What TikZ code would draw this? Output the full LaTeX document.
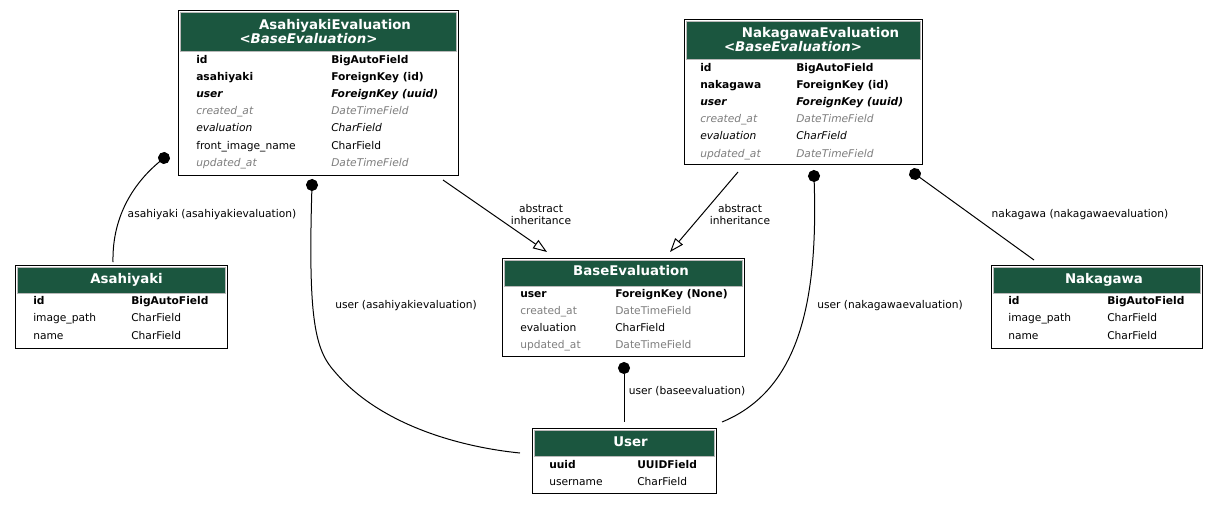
\documentclass[tikz,border=0pt]{standalone}
\usepackage{fontspec}
\setmainfont{DejaVu Sans}[BoldFont={DejaVu Sans Bold}, ItalicFont={DejaVu Sans Oblique}, BoldItalicFont={DejaVu Sans Bold Oblique}]
\usetikzlibrary{arrows.meta}

\definecolor{hdrgreen}{RGB}{27,86,63}
\definecolor{inhgray}{RGB}{125,125,125}

\tikzset{
	tablebox/.style={draw=black, line width=0.75pt},
	hdrcell/.style={fill=hdrgreen, draw=gray!55, line width=0.75pt},
	title/.style={text=white, inner sep=0pt, anchor=base, font=\fontsize{10}{12}\selectfont\bfseries},
	titleit/.style={title, font=\fontsize{10}{12}\selectfont\bfseries\itshape},
	fld/.style={inner sep=0pt, anchor=base west, font=\fontsize{8}{9.6}\selectfont},
	fldkey/.style={fld, font=\fontsize{8}{9.6}\selectfont\bfseries},
	fldfk/.style={fld, font=\fontsize{8}{9.6}\selectfont\bfseries\itshape},
	fldit/.style={fld, font=\fontsize{8}{9.6}\selectfont\itshape},
	fldinh/.style={fld, font=\fontsize{8}{9.6}\selectfont\itshape, text=inhgray},
	fldgray/.style={fld, text=inhgray},
	fldplain/.style={fld},
	elabel/.style={inner sep=0pt, align=center, font=\fontsize{8}{9}\selectfont},
	fkedge/.style={{Circle[length=9pt]}-, shorten <=-4.5pt, line width=0.75pt},
	inherit/.style={-{Triangle[open, length=10.5pt, width=7.5pt]}, line width=0.75pt},
}

\begin{document}
\begin{tikzpicture}[x=0.75pt, y=-0.75pt]
	\useasboundingbox (0,0) rectangle (1219,504);

	% AsahiyakiEvaluation
	\draw[tablebox] (178.5,10.5) rectangle (458.5,175);
	\draw[hdrcell] (180.5,12.5) rectangle (456.5,51.5);
	\node[title] (ae-title) at (335,29) {AsahiyakiEvaluation};
	\node[titleit] (ae-base) at (308.5,43) {<BaseEvaluation>};
	\foreach \st/\fn/\ft [count=\i] in {fldkey/id/BigAutoField, fldkey/asahiyaki/ForeignKey (id), fldfk/user/ForeignKey (uuid), fldinh/created\_at/DateTimeField, fldit/evaluation/CharField, fldplain/front\_image\_name/CharField, fldinh/updated\_at/DateTimeField}
	{
		\node[\st] (ae-n\i) at (196,{63+17.2*(\i-1)}) {\fn};
		\node[\st] (ae-t\i) at (331,{63+17.2*(\i-1)}) {\ft};
	}

	% NakagawaEvaluation
	\draw[tablebox] (684,19) rectangle (922,164.5);
	\draw[hdrcell] (686,21) rectangle (920,59.5);
	\node[title] (ne-title) at (820.5,37) {NakagawaEvaluation};
	\node[titleit] (ne-base) at (793,51) {<BaseEvaluation>};
	\foreach \st/\fn/\ft [count=\i] in {fldkey/id/BigAutoField, fldkey/nakagawa/ForeignKey (id), fldfk/user/ForeignKey (uuid), fldinh/created\_at/DateTimeField, fldit/evaluation/CharField, fldinh/updated\_at/DateTimeField}
	{
		\node[\st] (ne-n\i) at (700,{71+17.2*(\i-1)}) {\fn};
		\node[\st] (ne-t\i) at (796,{71+17.2*(\i-1)}) {\ft};
	}

	% BaseEvaluation
	\draw[tablebox] (502,258) rectangle (744.5,356);
	\draw[hdrcell] (504,260) rectangle (742.5,286.5);
	\node[title] (be-title) at (631,275) {BaseEvaluation};
	\foreach \st/\fn/\ft [count=\i] in {fldkey/user/ForeignKey (None), fldgray/created\_at/DateTimeField, fldplain/evaluation/CharField, fldgray/updated\_at/DateTimeField}
	{
		\node[\st] (be-n\i) at (520,{297+17.3*(\i-1)}) {\fn};
		\node[\st] (be-t\i) at (615,{297+17.3*(\i-1)}) {\ft};
	}

	% Asahiyaki
	\draw[tablebox] (15.5,265.5) rectangle (227.5,348);
	\draw[hdrcell] (17.5,267.5) rectangle (225.5,293.5);
	\node[title] (as-title) at (126.5,283) {Asahiyaki};
	\foreach \st/\fn/\ft [count=\i] in {fldkey/id/BigAutoField, fldplain/image\_path/CharField, fldplain/name/CharField}
	{
		\node[\st] (as-n\i) at (33,{304+17.8*(\i-1)}) {\fn};
		\node[\st] (as-t\i) at (131,{304+17.8*(\i-1)}) {\ft};
	}

	% Nakagawa
	\draw[tablebox] (991.5,265.5) rectangle (1202.5,348);
	\draw[hdrcell] (993.5,267.5) rectangle (1200.5,293.5);
	\node[title] (nk-title) at (1104,283) {Nakagawa};
	\foreach \st/\fn/\ft [count=\i] in {fldkey/id/BigAutoField, fldplain/image\_path/CharField, fldplain/name/CharField}
	{
		\node[\st] (nk-n\i) at (1008,{304+17.8*(\i-1)}) {\fn};
		\node[\st] (nk-t\i) at (1107,{304+17.8*(\i-1)}) {\ft};
	}

	% User
	\draw[tablebox] (532,428.5) rectangle (716,493);
	\draw[hdrcell] (534,430.5) rectangle (714,456.5);
	\node[title] (us-title) at (630.5,446) {User};
	\foreach \st/\fn/\ft [count=\i] in {fldkey/uuid/UUIDField, fldplain/username/CharField}
	{
		\node[\st] (us-n\i) at (549,{468+17.3*(\i-1)}) {\fn};
		\node[\st] (us-t\i) at (637,{468+17.3*(\i-1)}) {\ft};
	}

	% edge ends
	\coordinate (ae-asahiyaki) at (164,158);
	\coordinate (as-top) at (113,262);
	\coordinate (ae-user) at (312,185);
	\coordinate (us-left) at (520,453);
	\coordinate (ae-inh) at (443,180);
	\coordinate (be-left) at (547,252);
	\coordinate (ne-inh) at (738,172);
	\coordinate (be-right) at (670,252);
	\coordinate (ne-user) at (814,176);
	\coordinate (us-right) at (722,422);
	\coordinate (ne-nakagawa) at (915,174);
	\coordinate (nk-top) at (1034,260);
	\coordinate (be-user) at (624,368);
	\coordinate (us-top) at (624,422);

	% edges
	\draw[fkedge] (ae-asahiyaki) .. controls (135,182) and (112,215) .. (as-top);
	\draw[fkedge] (ae-user) .. controls (308,320) and (315,350) .. (335,372) .. controls (380,425) and (460,447) .. (us-left);
	\draw[inherit] (ae-inh) -- (be-left);
	\draw[inherit] (ne-inh) -- (be-right);
	\draw[fkedge] (ne-user) .. controls (818,300) and (800,390) .. (us-right);
	\draw[fkedge] (ne-nakagawa) -- (nk-top);
	\draw[fkedge] (be-user) -- (us-top);

	% edge labels
	\node[elabel] (lbl-as) at (212,215) {asahiyaki (asahiyakievaluation)};
	\node[elabel] (lbl-aeuser) at (406,306) {user (asahiyakievaluation)};
	\node[elabel] (lbl-inh1) at (541,215) {abstract\\inheritance};
	\node[elabel] (lbl-inh2) at (740,215) {abstract\\inheritance};
	\node[elabel] (lbl-neuser) at (890,306) {user (nakagawaevaluation)};
	\node[elabel] (lbl-nk) at (1080,215) {nakagawa (nakagawaevaluation)};
	\node[elabel] (lbl-beuser) at (687,391) {user (baseevaluation)};
\end{tikzpicture}
\end{document}
